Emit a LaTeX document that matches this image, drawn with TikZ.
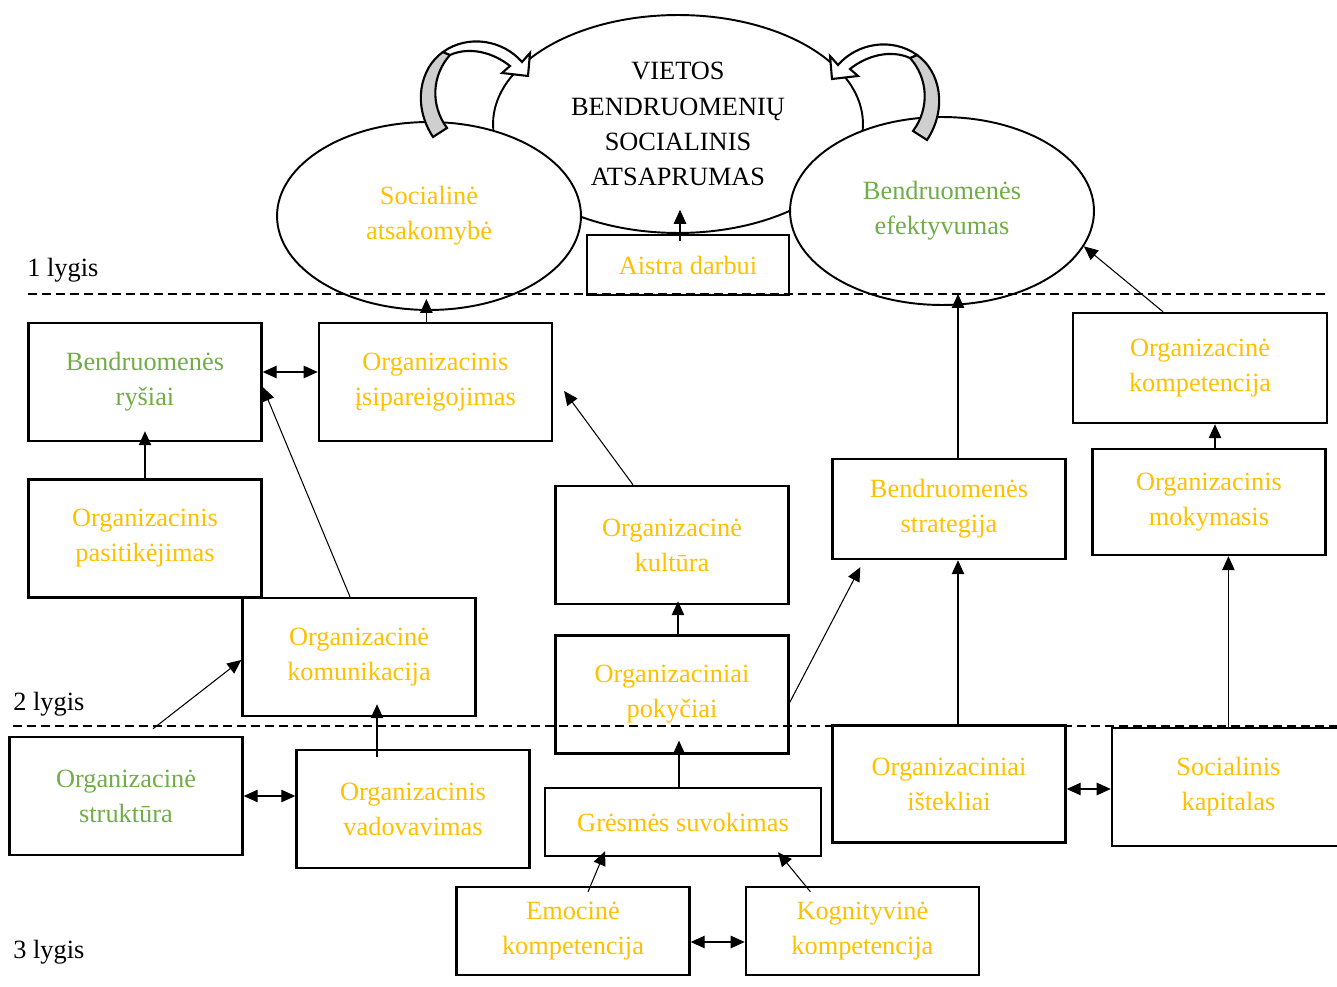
\documentclass[tikz,border=0pt]{standalone}
\usepackage{fontspec}
\setmainfont{Liberation Serif}
\usetikzlibrary{positioning, shapes.geometric, arrows.meta}
\definecolor{geltona}{HTML}{FFC000}
\definecolor{zalia}{HTML}{70AD47}
\definecolor{pilka}{HTML}{CFCFCF}

\begin{document}
\begin{tikzpicture}[x=0.02cm, y=-0.02cm,
    font=\fontsize{15}{20}\selectfont,
    blok/.style={draw, line width=1.4pt, minimum width=4.66cm, minimum height=2.36cm, align=center, inner sep=2pt, text=geltona},
    elips/.style={draw, ellipse, line width=1.1pt, fill=white, minimum width=6.08cm, minimum height=3.76cm, align=center, inner sep=0pt},
    rod/.style={-{Triangle[length=0.28cm,width=0.25cm]}, line width=0.6pt},
    dvirod/.style={{Triangle[length=0.28cm,width=0.25cm]}-{Triangle[length=0.28cm,width=0.25cm]}, line width=0.6pt},
    lygis/.style={dash pattern=on 0.18cm off 0.1cm, line width=0.8pt},
    lenta/.style={anchor=west, inner sep=0pt},
    lenkta/.style={line width=1.2pt, line join=miter},
    lenkta rodykle/.pic={
        \draw[lenkta, fill=pilka] (433,137) .. controls (412,105) and (420,68) .. (443,52) -- (450,55) .. controls (432,75) and (430,105) .. (447,128) -- cycle;
        \draw[lenkta, fill=white] (443,52) .. controls (468,34) and (503,40) .. (522,62) -- (530,53) -- (528,76) -- (502,73) -- (510,66) .. controls (494,53) and (470,46) .. (450,55) -- cycle;
    }]

\useasboundingbox (0,0) rectangle (1337,986);

% 1 lygis
\node[elips, minimum width=7.4cm, minimum height=4.36cm] (atsparumas) at (678,124) {VIETOS\\BENDRUOMENIŲ\\SOCIALINIS\\ATSAPRUMAS};
\node[elips, text=geltona] (atsakomybe) at (429,216) {Socialinė\\atsakomybė};
\node[elips, text=zalia] (efektyvumas) at (942,211) {Bendruomenės\\efektyvumas};
\pic at (0,0) {lenkta rodykle};
\pic[xscale=-1] at (1360,3) {lenkta rodykle};
\node[blok, minimum width=4.04cm, minimum height=1.2cm] (aistra) at (688,265) {Aistra darbui};

% 2 lygis
\node[blok, text=zalia] (rysiai) at (145,382) {Bendruomenės\\ryšiai};
\node[blok, right=1.1cm of rysiai] (isipareig) {Organizacinis\\įsipareigojimas};
\node[blok, below=0.72cm of rysiai] (pasitikejimas) {Organizacinis\\pasitikėjimas};
\node[blok] (komunikacija) at (359,657) {Organizacinė\\komunikacija};
\node[blok] (kultura) at (672,545) {Organizacinė\\kultūra};
\node[blok, below=0.58cm of kultura] (pokyciai) {Organizaciniai\\pokyčiai};
\node[blok, minimum height=2cm] (strategija) at (949,509) {Bendruomenės\\strategija};
\node[blok, minimum width=5.08cm, minimum height=2.2cm] (kompetencija) at (1200,368) {Organizacinė\\kompetencija};
\node[blok, minimum height=2.12cm] (mokymasis) at (1209,502) {Organizacinis\\mokymasis};

% 3 lygis
\node[blok, text=zalia] (struktura) at (126,796) {Organizacinė\\struktūra};
\node[blok] (vadovavimas) at (413,809) {Organizacinis\\vadovavimas};
\node[blok, minimum width=5.52cm, minimum height=1.36cm] (gresmes) at (683,822) {Grėsmės suvokimas};
\node[blok, minimum height=2.34cm] (istekliai) at (949,784) {Organizaciniai\\ištekliai};
\node[blok, right=0.88cm of istekliai, yshift=-0.06cm] (kapitalas) {Socialinis\\kapitalas};
\node[blok, minimum height=1.76cm] (emocine) at (573,931) {Emocinė\\kompetencija};
\node[blok, minimum height=1.76cm, right=1.08cm of emocine] (kognityvine) {Kognityvinė\\kompetencija};

% lygiai
\draw[lygis] (28,294) -- (1327,294);
\draw[lygis] (13,726) -- (1337,726);
\node[lenta] (lygis1) at (27,270) {1 lygis};
\node[lenta] (lygis2) at (13,704) {2 lygis};
\node[lenta] (lygis3) at (13,952) {3 lygis};

% rodyklės
\draw[rod] ([xshift=-0.16cm,yshift=-0.14cm]aistra.north) -- ([xshift=-0.16cm,yshift=0.48cm]aistra.north);
\draw[rod, shorten >=-0.24cm] ([xshift=-0.18cm]isipareig.north) -- ([xshift=-0.18cm]isipareig.north |- atsakomybe.south);
\draw[dvirod] ([yshift=0.2cm]rysiai.east) -- ([yshift=0.2cm]rysiai.east -| isipareig.west);
\draw[rod, shorten >=-0.22cm] (pasitikejimas) -- (rysiai);
\draw[rod] ([xshift=-0.18cm]komunikacija.north) -- ([yshift=-0.1cm]rysiai.east);
\draw[rod] ([xshift=-0.78cm]kultura.north) -- ([shift={(0.22cm,-0.18cm)}]isipareig.east);
\draw[rod, shorten >=-0.08cm] ([xshift=0.12cm]pokyciai.north) -- ([xshift=0.12cm]kultura.south);
\draw[rod] ([yshift=-0.16cm]pokyciai.east) -- ([shift={(0.58cm,-0.14cm)}]strategija.south west);
\draw[rod, shorten >=-0.24cm] ([xshift=0.18cm]strategija.north) -- ([xshift=0.18cm]strategija.north |- efektyvumas.south);
\draw[rod] ([xshift=-0.74cm]kompetencija.north) -- (efektyvumas.-14);
\draw[rod] ([xshift=0.12cm]mokymasis.north) -- ([xshift=0.12cm]mokymasis.north |- kompetencija.south);
\draw[rod] (kapitalas.north) -- (kapitalas.north |- mokymasis.south);
\draw[rod] ([xshift=0.18cm]istekliai.north) -- ([xshift=0.18cm]strategija.south);
\draw[dvirod] ([yshift=-0.1cm]istekliai.east) -- ([yshift=-0.1cm]istekliai.east -| kapitalas.west);
\draw[dvirod] (struktura.east) -- (struktura.east -| vadovavimas.west);
\draw[rod] ([shift={(0.54cm,0.14cm)}]struktura.north) -- ([yshift=-0.06cm]komunikacija.west);
\draw[rod, shorten >=-0.26cm] ([xshift=-0.72cm,yshift=-0.16cm]vadovavimas.north) -- ([xshift=-0.72cm]vadovavimas.north |- komunikacija.south);
\draw[rod, shorten >=-0.28cm] ([xshift=-0.08cm]gresmes.north) -- ([xshift=-0.08cm]gresmes.north |- pokyciai.south);
\draw[rod] ([shift={(0.3cm,-0.12cm)}]emocine.north) -- ([shift={(-1.56cm,0.12cm)}]gresmes.south);
\draw[rod] ([shift={(-1.04cm,-0.12cm)}]kognityvine.north) -- ([shift={(1.9cm,0.1cm)}]gresmes.south);
\draw[dvirod] ([yshift=-0.22cm]emocine.east) -- ([yshift=-0.22cm]emocine.east -| kognityvine.west);
\end{tikzpicture}
\end{document}
